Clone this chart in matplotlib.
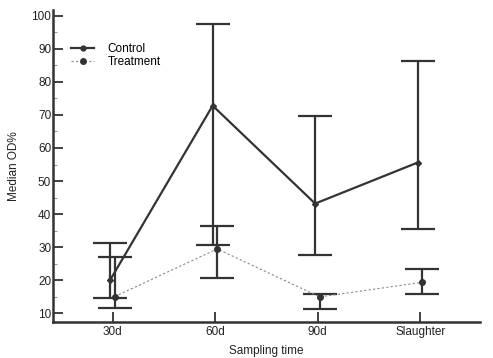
import numpy as np
import matplotlib
matplotlib.use("Agg")
import matplotlib.pyplot as plt
from matplotlib.ticker import MultipleLocator
from matplotlib.lines import Line2D

plt.rcParams['font.family'] = ['Liberation Sans', 'DejaVu Sans']

times = ["30d", "60d", "90d", "Slaughter"]

control_med = [20.1, 72.8, 43.2, 55.6]
control_low = [14.6, 30.6, 27.8, 35.6]
control_high = [31.4, 97.6, 69.6, 86.3]

treat_med = [15.1, 29.5, 15.0, 19.4]
treat_low = [11.5, 20.8, 11.3, 15.8]
treat_high = [27.2, 36.5, 16.0, 23.3]

col = "#333333"
x = np.arange(1, len(times) + 1)

fig = plt.figure(figsize=(4.93, 3.58), dpi=100)
ax = fig.add_axes([0.108, 0.101, 0.866, 0.871])

cx = x - 0.025
tx = x + 0.02
c_err = [np.array(control_med) - np.array(control_low), np.array(control_high) - np.array(control_med)]
t_err = [np.array(treat_med) - np.array(treat_low), np.array(treat_high) - np.array(treat_med)]

# control: solid line with small diamonds
ax.errorbar(cx, control_med, yerr=c_err, color=col, lw=1.6, marker="D", ms=3,
            capsize=12, elinewidth=1.6, capthick=1.6)
# treatment: error bars, then thin dotted connecting line and dots
ax.errorbar(tx, treat_med, yerr=t_err, fmt="none", ecolor=col,
            capsize=12, elinewidth=1.6, capthick=1.6)
ax.plot(tx, treat_med, color="#888888", lw=0.8, ls=(0, (2, 2)))
ax.plot(tx, treat_med, ls="none", marker="o", ms=4, color=col)

ax.set_xlim(0.42, 4.585)
ax.set_ylim(7.46, 101.7)
ax.set_xticks(x)
ax.set_xticklabels(times)
ax.yaxis.set_major_locator(MultipleLocator(10))
ax.yaxis.set_minor_locator(MultipleLocator(5))
ax.tick_params(axis="both", which="major", direction="in", length=7, width=1.3,
               labelsize=8.5, colors=col, labelcolor="#222222")
ax.tick_params(axis="y", which="minor", direction="in", length=3, width=0.8, colors="#999999")
ax.tick_params(axis="y", which="major", pad=1.5)
ax.tick_params(axis="x", pad=3)

for s in ["top", "right"]:
    ax.spines[s].set_visible(False)
for s in ["left", "bottom"]:
    ax.spines[s].set_linewidth(1.8)
    ax.spines[s].set_color(col)

ax.set_xlabel("Sampling time", fontsize=8.5, color="#222222", labelpad=5)
ax.set_ylabel("Median OD%", fontsize=8.5, color="#222222")
ax.yaxis.set_label_coords(-0.077, 0.5)

h1 = Line2D([0, 1], [0, 0], color=col, lw=1.6, marker="o", ms=3.5, markevery=[0, 1])
h2 = Line2D([0, 1], [0, 0], color="#888888", lw=0.8, ls=(0, (2, 2)), marker="o", ms=4,
            markerfacecolor=col, markeredgecolor=col, markevery=[0, 1])
ax.legend([h1, h2], ["Control", "Treatment"], loc="upper left", bbox_to_anchor=(0.03, 0.91),
          frameon=False, fontsize=8.5, handlelength=2.0, handletextpad=1.1,
          labelspacing=0.1, borderaxespad=0)

fig.savefig("out.png", dpi=100)
